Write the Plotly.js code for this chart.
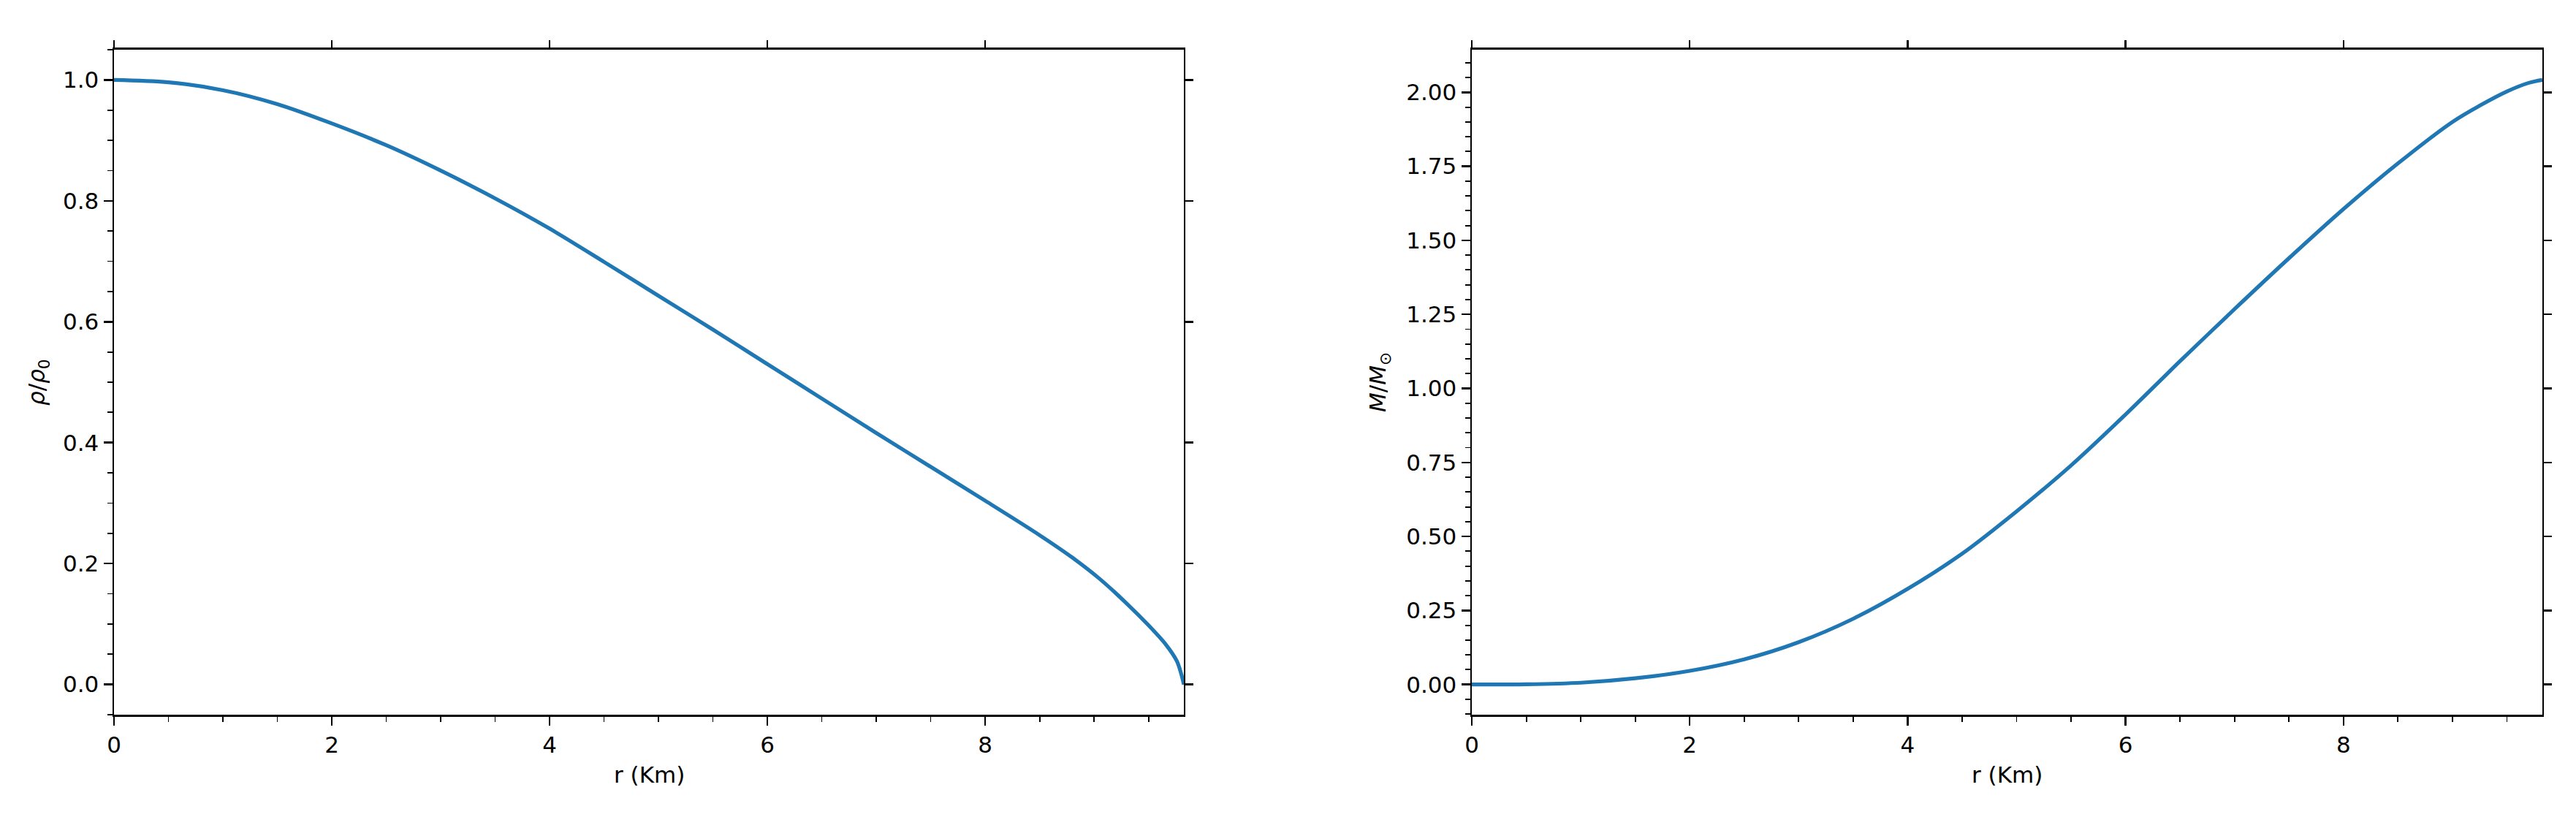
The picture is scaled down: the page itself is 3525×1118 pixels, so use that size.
<!DOCTYPE html>
<html>
<head>
<meta charset="utf-8">
<script src="https://cdn.plot.ly/plotly-3.0.1.min.js"></script>
<style>html,body{margin:0;padding:0;background:#fff;}#chart{width:3525px;height:1118px;}</style>
</head>
<body>
<div id="chart"></div>
<script>
// Left panel: normalized density vs radius
const r_rho = [0, 0.5, 1.0, 1.5, 2.0, 2.5, 3.0, 3.5, 4.0, 4.5, 5.0, 5.5, 6.0, 6.5, 7.0, 7.5, 8.0, 8.5, 8.8, 9.05, 9.3, 9.5, 9.66, 9.76, 9.8, 9.825];
const rho = [1.0, 0.996, 0.983, 0.960, 0.928, 0.892, 0.850, 0.804, 0.754, 0.699, 0.643, 0.587, 0.530, 0.473, 0.416, 0.360, 0.304, 0.247, 0.210, 0.175, 0.134, 0.098, 0.066, 0.039, 0.018, 0.0];
// Right panel: enclosed mass vs radius
const r_m = [0, 0.5, 1.0, 1.5, 2.0, 2.5, 3.0, 3.5, 4.0, 4.5, 5.0, 5.5, 6.0, 6.5, 7.0, 7.5, 8.0, 8.5, 9.0, 9.25, 9.5, 9.7, 9.825];
const mass = [0, 0.0008, 0.006, 0.021, 0.046, 0.085, 0.143, 0.222, 0.323, 0.442, 0.585, 0.740, 0.912, 1.092, 1.268, 1.440, 1.606, 1.760, 1.900, 1.955, 2.003, 2.032, 2.042];

const xLabel = 'r (Km)';
const yLabelLeft = '<i>ρ</i>/<i>ρ</i><sub>0</sub>';
const yLabelRight = '<i>M</i>/<i>M</i><sub>⊙</sub>';

const BLUE = '#1f77b4';
const FONT = 'DejaVu Sans, Liberation Sans, sans-serif';
const FS = 31;
const XR = [0, 9.825];
const YR1 = [-0.05, 1.05];
const YR2 = [-0.102, 2.144];
const DX1 = [0.04426, 0.45957];
const DX2 = [0.57135, 0.98695];
const DY = [0.12522, 0.93918];

function mainAxis(extra) {
  return Object.assign({
    showline: true, mirror: true, linecolor: '#000', linewidth: 2.5,
    ticks: 'outside', ticklen: 12, tickwidth: 2.5, tickcolor: '#000',
    showgrid: false, zeroline: false,
    tickfont: {family: FONT, size: FS, color: '#000'},
    fixedrange: true
  }, extra);
}
function ghostAxis(extra) {
  return Object.assign({
    showline: false, ticks: 'outside', ticklen: 12, tickwidth: 2.5, tickcolor: '#000',
    showgrid: false, zeroline: false, showticklabels: false, fixedrange: true
  }, extra);
}
const minorX = {dtick: 0.5, ticks: 'outside', ticklen: 7, tickwidth: 1.9, tickcolor: '#000', showgrid: false};
const minorY = {dtick: 0.05, ticks: 'outside', ticklen: 7, tickwidth: 1.9, tickcolor: '#000', showgrid: false};

const data = [
  {x: r_rho, y: rho, xaxis: 'x', yaxis: 'y', mode: 'lines', line: {color: BLUE, width: 5.2, shape: 'spline', smoothing: 0.9}, hoverinfo: 'skip', showlegend: false},
  {x: r_m, y: mass, xaxis: 'x2', yaxis: 'y2', mode: 'lines', line: {color: BLUE, width: 5.2, shape: 'spline', smoothing: 0.9}, hoverinfo: 'skip', showlegend: false},
  {x: r_rho, y: rho, xaxis: 'x3', yaxis: 'y3', mode: 'lines', line: {color: 'rgba(0,0,0,0)', width: 0}, hoverinfo: 'skip', showlegend: false},
  {x: r_m, y: mass, xaxis: 'x4', yaxis: 'y4', mode: 'lines', line: {color: 'rgba(0,0,0,0)', width: 0}, hoverinfo: 'skip', showlegend: false}
];

const layout = {
  width: 3525, height: 1118,
  margin: {l: 0, r: 0, t: 0, b: 0},
  paper_bgcolor: '#fff', plot_bgcolor: 'rgba(0,0,0,0)',
  showlegend: false,
  xaxis: mainAxis({domain: DX1, anchor: 'y', range: XR, tick0: 0, dtick: 2, minor: minorX}),
  yaxis: mainAxis({domain: DY, anchor: 'x', range: YR1, tick0: 0, dtick: 0.2, tickformat: '.1f', minor: minorY}),
  xaxis2: mainAxis({domain: DX2, anchor: 'y2', range: XR, tick0: 0, dtick: 2, minor: minorX}),
  yaxis2: mainAxis({domain: DY, anchor: 'x2', range: YR2, tick0: 0, dtick: 0.25, tickformat: '.2f', minor: minorY}),
  xaxis3: ghostAxis({overlaying: 'x', side: 'top', anchor: 'y3', range: XR, tick0: 0, dtick: 2}),
  yaxis3: ghostAxis({overlaying: 'y', side: 'right', anchor: 'x3', range: YR1, tick0: 0, dtick: 0.2}),
  xaxis4: ghostAxis({overlaying: 'x2', side: 'top', anchor: 'y4', range: XR, tick0: 0, dtick: 2}),
  yaxis4: ghostAxis({overlaying: 'y2', side: 'right', anchor: 'x4', range: YR2, tick0: 0, dtick: 0.25}),
  annotations: [
    {text: xLabel, xref: 'paper', yref: 'paper', x: (DX1[0] + DX1[1]) / 2, y: (1118 - 1060) / 1118, xanchor: 'center', yanchor: 'middle', showarrow: false, font: {family: FONT, size: FS, color: '#000'}},
    {text: xLabel, xref: 'paper', yref: 'paper', x: (DX2[0] + DX2[1]) / 2, y: (1118 - 1060) / 1118, xanchor: 'center', yanchor: 'middle', showarrow: false, font: {family: FONT, size: FS, color: '#000'}},
    {text: yLabelLeft, xref: 'paper', yref: 'paper', x: 52 / 3525, y: (1118 - 523) / 1118, xanchor: 'center', yanchor: 'middle', textangle: -90, showarrow: false, font: {family: FONT, size: FS, color: '#000'}},
    {text: yLabelRight, xref: 'paper', yref: 'paper', x: 1887 / 3525, y: (1118 - 523) / 1118, xanchor: 'center', yanchor: 'middle', textangle: -90, showarrow: false, font: {family: FONT, size: FS, color: '#000'}}
  ]
};

Plotly.newPlot('chart', data, layout, {staticPlot: true, displayModeBar: false});
</script>
</body>
</html>
